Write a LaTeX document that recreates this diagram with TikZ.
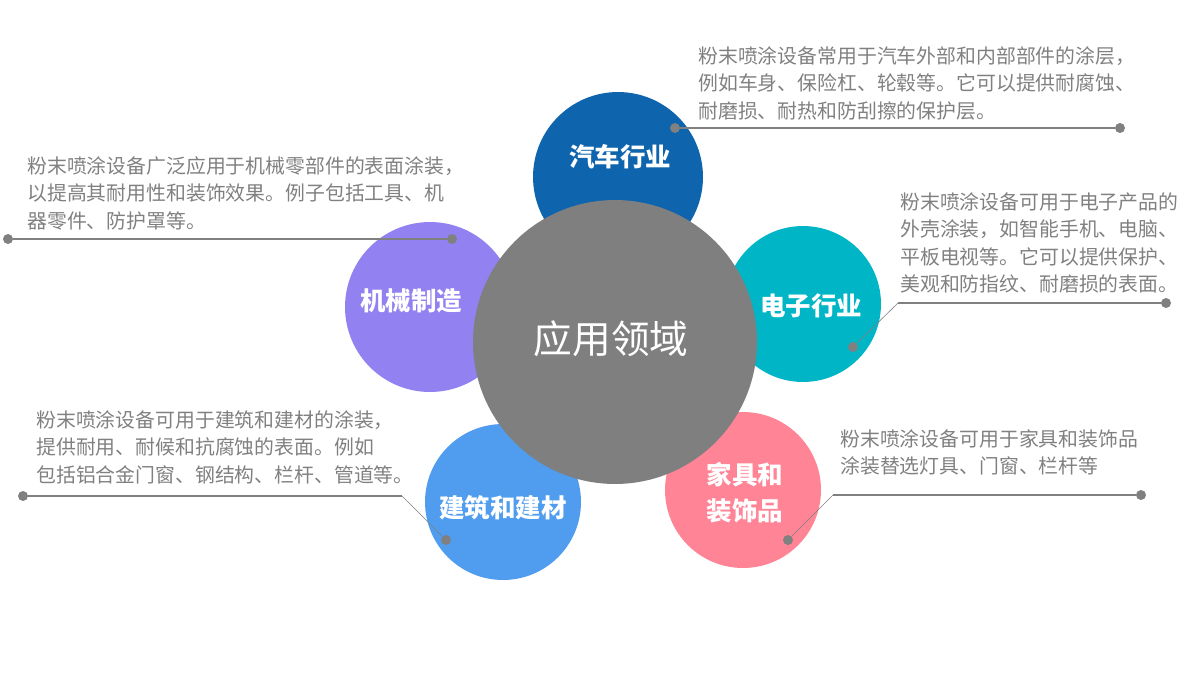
\documentclass[tikz,border=0pt]{standalone}
\usepackage{fontspec}
\setmainfont{Noto Sans CJK SC}
\usetikzlibrary{positioning}
\definecolor{carblue}{HTML}{0F64AE}
\definecolor{mechpurple}{HTML}{9281F0}
\definecolor{elecyan}{HTML}{00B6C6}
\definecolor{buildblue}{HTML}{509DEF}
\definecolor{furnpink}{HTML}{FF8495}
\definecolor{hubgray}{HTML}{7F7F7F}
\definecolor{notegray}{HTML}{808080}
\tikzset{
  field/.style={circle, inner sep=0pt, minimum size=#1},
  fieldtext/.style={text=white, font=\fontsize{14.5}{20.4}\selectfont\bfseries, align=center, inner sep=0pt},
  note/.style={anchor=north west, align=left, inner sep=0pt, text=notegray, font=\fontsize{11.3}{15.7}\selectfont},
  dot/.style={circle, fill=notegray, inner sep=0pt, minimum size=0.2cm},
  lead/.style={draw=notegray, line width=0.6pt},
  slant/.style={draw=notegray, line width=0.35pt},
}
\begin{document}
\begin{tikzpicture}[x=0.02cm, y=-0.02cm]
  \useasboundingbox (0,0) rectangle (1200,680);
  \node[field=3.4cm, fill=carblue] (car) at (618,177) {};
  \node[field=3.4cm, fill=mechpurple] (mech) at (430,307) {};
  \node[field=3.12cm, fill=elecyan] (elec) at (803,304) {};
  \node[field=3.12cm, fill=buildblue] (build) at (503,502) {};
  \node[field=3.12cm, fill=furnpink] (furn) at (743,490) {};
  \node[field=5.68cm, fill=hubgray] (hub) at (615,342) {};

  \node[fieldtext] (tcar) at (620,157) {汽车行业};
  \node[fieldtext] (tmech) at (411,301) {机械制造};
  \node[fieldtext] (telec) at (811,306) {电子行业};
  \node[fieldtext] (tbuild) at (503,508) {建筑和建材};
  \node[fieldtext] (tfurn) at (745,493) {家具和\\装饰品};
  \node[text=white, font=\fontsize{22}{26}\selectfont, inner sep=0pt] (thub) at (611,339) {应用领域};

  \node[note] (ncar) at (698,46) {粉末喷涂设备常用于汽车外部和内部部件的涂层，\\例如车身、保险杠、轮毂等。它可以提供耐腐蚀、\\耐磨损、耐热和防刮擦的保护层。};
  \node[note] (nmech) at (27,156) {粉末喷涂设备广泛应用于机械零部件的表面涂装，\\以提高其耐用性和装饰效果。例子包括工具、机\\器零件、防护罩等。};
  \node[note] (nelec) at (900,192) {粉末喷涂设备可用于电子产品的\\外壳涂装，如智能手机、电脑、\\平板电视等。它可以提供保护、\\美观和防指纹、耐磨损的表面。};
  \node[note] (nbuild) at (36,410) {粉末喷涂设备可用于建筑和建材的涂装，\\提供耐用、耐候和抗腐蚀的表面。例如\\包括铝合金门窗、钢结构、栏杆、管道等。};
  \node[note] (nfurn) at (840,429) {粉末喷涂设备可用于家具和装饰品\\涂装替选灯具、门窗、栏杆等};

  \node[dot] (d1a) at (675,128) {};
  \node[dot] (d1b) at (1120,128) {};
  \node[dot] (d2a) at (8,239) {};
  \node[dot] (d2b) at (452,239) {};
  \node[dot] (d3a) at (853,347) {};
  \node[dot] (d3b) at (1166,303) {};
  \node[dot] (d4a) at (23,496) {};
  \node[dot] (d4b) at (446,540) {};
  \node[dot] (d5a) at (788,540) {};
  \node[dot] (d5b) at (1141,495) {};
  \coordinate (k3) at (898,303);
  \coordinate (k4) at (402,496);
  \coordinate (k5) at (833,495);

  \draw[lead] (d1a) -- (d1b);
  \draw[lead] (d2a) -- (d2b);
  \draw[slant] (d3a) -- (k3);
  \draw[lead] (k3) -- (d3b);
  \draw[lead] (d4a) -- (k4);
  \draw[slant] (k4) -- (d4b);
  \draw[slant] (d5a) -- (k5);
  \draw[lead] (k5) -- (d5b);
\end{tikzpicture}
\end{document}
